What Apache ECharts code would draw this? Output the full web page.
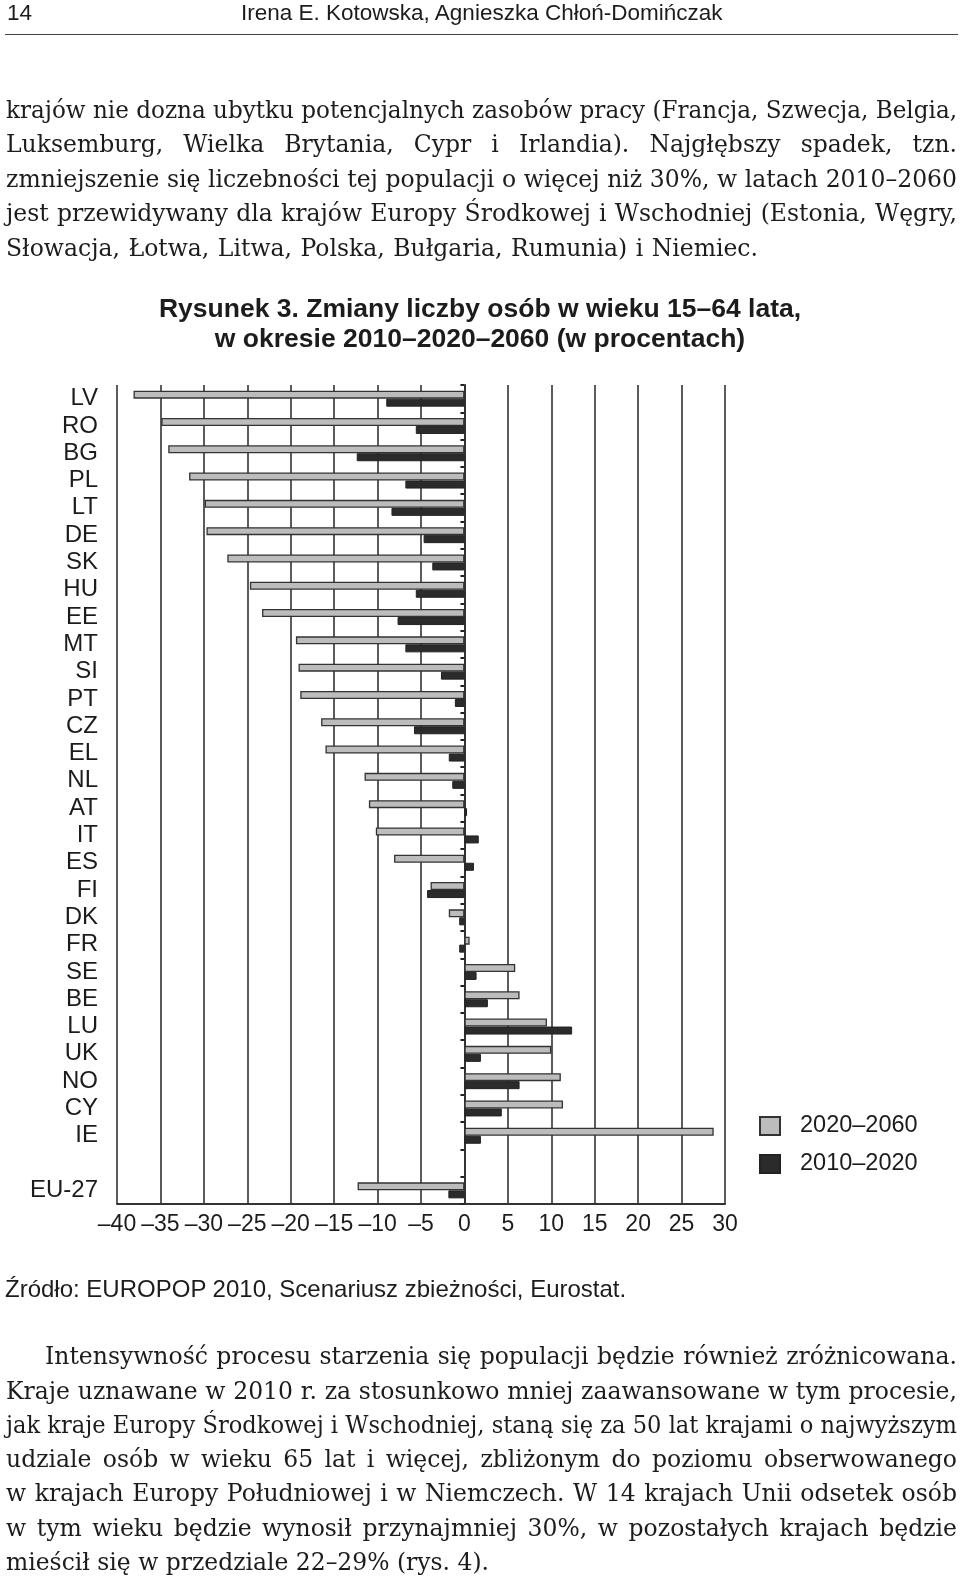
<!DOCTYPE html>
<html>
<head>
<meta charset="utf-8">
<script src="https://cdn.jsdelivr.net/npm/echarts@6/dist/echarts.min.js"></script>
<style>
body { margin: 0; width: 960px; height: 1578px; background: #fff; position: relative; overflow: hidden; }
#chart { position: absolute; left: 0; top: 0; width: 960px; height: 1578px; }
.t { position: absolute; color: #1c1c1c; white-space: nowrap; }
.sans { font-family: "Liberation Sans", Arial, sans-serif; }
.serif { font-family: "DejaVu Serif", "Liberation Serif", serif; font-size: 23.5px; line-height: 34px; left: 6px; }
.ttl { left: 0; width: 960px; text-align: center; font-weight: bold; font-size: 26.5px; line-height: 30px; }
</style>
</head>
<body>
<div id="chart"></div>

<div class="t sans" style="left:7px;top:0;font-size:22.5px;line-height:25px">14</div>
<div class="t sans" style="left:241px;top:0;font-size:22.5px;line-height:25px">Irena E. Kotowska, Agnieszka Chłoń-Domińczak</div>
<div style="position:absolute;left:5px;top:34px;width:953px;height:0;border-top:1.5px solid #444"></div>

<div class="t serif j" data-w="951" style="top:93px">krajów nie dozna ubytku potencjalnych zasobów pracy (Francja, Szwecja, Belgia,</div>
<div class="t serif j" data-w="951" style="top:127px">Luksemburg, Wielka Brytania, Cypr i Irlandia). Najgłębszy spadek, tzn.</div>
<div class="t serif j" data-w="951" style="top:162px">zmniejszenie się liczebności tej populacji o więcej niż 30%, w latach 2010–2060</div>
<div class="t serif j" data-w="951" style="top:196px">jest przewidywany dla krajów Europy Środkowej i Wschodniej (Estonia, Węgry,</div>
<div class="t serif j" data-w="752" style="top:231px">Słowacja, Łotwa, Litwa, Polska, Bułgaria, Rumunia) i Niemiec.</div>

<div class="t sans ttl" style="top:293px">Rysunek 3. Zmiany liczby osób w wieku 15–64 lata,</div>
<div class="t sans ttl" style="top:323px">w okresie 2010–2020–2060 (w procentach)</div>

<div class="t sans" style="left:5px;top:1275px;font-size:24px;line-height:28px">Źródło: EUROPOP 2010, Scenariusz zbieżności, Eurostat.</div>

<div class="t serif j" data-w="912" style="top:1339px;left:45px">Intensywność procesu starzenia się populacji będzie również zróżnicowana.</div>
<div class="t serif j" data-w="951" style="top:1374px">Kraje uznawane w 2010 r. za stosunkowo mniej zaawansowane w tym procesie,</div>
<div class="t serif j" data-w="951" style="top:1408px">jak kraje Europy Środkowej i Wschodniej, staną się za 50 lat krajami o najwyższym</div>
<div class="t serif j" data-w="951" style="top:1442px">udziale osób w wieku 65 lat i więcej, zbliżonym do poziomu obserwowanego</div>
<div class="t serif j" data-w="951" style="top:1476px">w krajach Europy Południowej i w Niemczech. W 14 krajach Unii odsetek osób</div>
<div class="t serif j" data-w="951" style="top:1511px">w tym wieku będzie wynosił przynajmniej 30%, w pozostałych krajach będzie</div>
<div class="t serif j" data-w="483" style="top:1545px">mieścił się w przedziale 22–29% (rys. 4).</div>

<script>
// kraje od góry do dołu (pusta pozycja przed EU-27)
var countries = ['LV','RO','BG','PL','LT','DE','SK','HU','EE','MT','SI','PT','CZ','EL','NL',
    'AT','IT','ES','FI','DK','FR','SE','BE','LU','UK','NO','CY','IE','','EU-27'];

// zmiana 2020-2060 (%)
var change2060 = [-38.1,-34.9,-34.1,-31.7,-29.9,-29.7,-27.3,-24.7,-23.3,-19.4,-19.1,-18.9,-16.5,-16.0,-11.5,
    -11.0,-10.2,-8.1,-3.9,-1.8,0.6,5.85,6.35,9.5,10.0,11.1,11.35,28.7,'-',-12.3];

// zmiana 2010-2020 (%)
var change2020 = [-9.0,-5.6,-12.4,-6.8,-8.4,-4.7,-3.7,-5.6,-7.7,-6.8,-2.7,-1.1,-5.8,-1.8,-1.4,
    0.3,1.65,1.1,-4.3,-0.6,-0.6,1.4,2.7,12.4,1.9,6.35,4.3,1.9,'-',-1.85];

var xTicks = { min: -40, max: 30, interval: 5 };

// wyrównanie wierszy tekstu do szerokości z oryginału
document.querySelectorAll('.j').forEach(function (el) {
    var target = parseFloat(el.getAttribute('data-w'));
    var natural = el.getBoundingClientRect().width;
    var spaces = (el.textContent.match(/ /g) || []).length;
    if (natural < target && spaces > 0) {
        el.style.wordSpacing = ((target - natural) / spaces) + 'px';
    } else if (natural > target) {
        el.style.transformOrigin = '0 0';
        el.style.transform = 'scaleX(' + (target / natural) + ')';
    }
});

var chart = echarts.init(document.getElementById('chart'));
var font = '"Liberation Sans", Arial, sans-serif';

var option = {
    animation: false,
    backgroundColor: 'transparent',
    legend: {
        orient: 'vertical',
        left: 754,
        top: 1109,
        itemWidth: 20,
        itemHeight: 18,
        itemGap: 14,
        icon: 'rect',
        textStyle: { fontSize: 23.5, color: '#1c1c1c', fontFamily: font, padding: [0, 0, 0, 15] },
        data: ['2020–2060', '2010–2020']
    },
    grid: { left: 117, right: 235, top: 385, bottom: 374 },
    xAxis: {
        type: 'value',
        min: xTicks.min,
        max: xTicks.max,
        interval: xTicks.interval,
        axisLine: { show: true, onZero: false, lineStyle: { color: '#333', width: 2 } },
        axisTick: { show: false },
        splitLine: { show: true, lineStyle: { color: '#333', width: 1.6 } },
        axisLabel: {
            margin: 9,
            fontSize: 23,
            color: '#1c1c1c',
            fontFamily: font,
            formatter: function (v) { return String(v).replace('-', '–'); }
        }
    },
    yAxis: [
        {
            type: 'category',
            data: countries,
            inverse: true,
            axisLine: { show: false, onZero: false },
            axisTick: { show: false },
            axisLabel: { interval: 0, margin: 19, fontSize: 24, color: '#1c1c1c', fontFamily: font }
        },
        {
            type: 'category',
            data: countries,
            inverse: true,
            position: 'left',
            axisLine: { show: true, onZero: true, lineStyle: { color: '#333', width: 2 } },
            axisTick: { show: true, interval: 0, length: 4, lineStyle: { color: '#222', width: 2 } },
            axisLabel: { show: false }
        }
    ],
    series: [
        {
            name: '2020–2060',
            type: 'bar',
            data: change2060,
            barWidth: 8,
            barGap: 0,
            itemStyle: { color: '#bcbcbc', borderColor: '#333', borderWidth: 1.3 }
        },
        {
            name: '2010–2020',
            type: 'bar',
            data: change2020,
            barWidth: 8,
            barGap: 0,
            itemStyle: { color: '#2b2b2b', borderColor: '#222', borderWidth: 1 }
        }
    ]
};

chart.setOption(option);
</script>
</body>
</html>
